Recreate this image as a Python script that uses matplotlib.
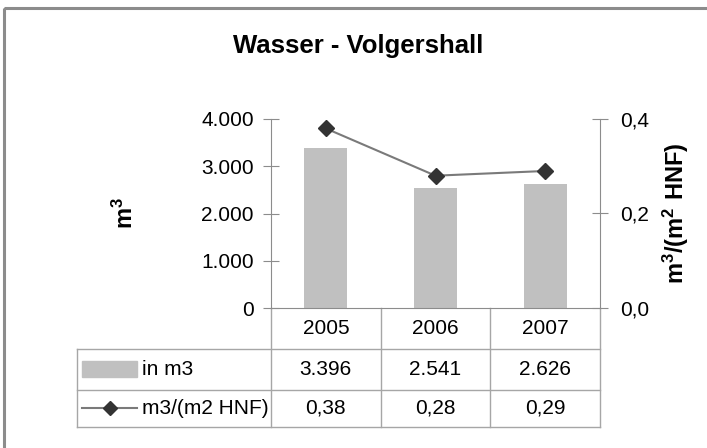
import matplotlib
matplotlib.use("Agg")
import matplotlib.pyplot as plt
import matplotlib.transforms as mtransforms
from matplotlib.patches import Rectangle
from matplotlib.lines import Line2D

plt.rcParams["font.family"] = ["Liberation Sans", "DejaVu Sans"]
plt.rcParams["mathtext.fontset"] = "custom"
plt.rcParams["mathtext.rm"] = "Liberation Sans:bold"
plt.rcParams["mathtext.bf"] = "Liberation Sans:bold"

# data
years = ["2005", "2006", "2007"]
volume_m3 = [3396, 2541, 2626]
per_area = [0.38, 0.28, 0.29]
volume_labels = ["3.396", "2.541", "2.626"]
per_area_labels = ["0,38", "0,28", "0,29"]
left_ticks = [0, 1000, 2000, 3000, 4000]
left_ticklabels = ["0", "1.000", "2.000", "3.000", "4.000"]
right_ticks = [0.0, 0.2, 0.4]
right_ticklabels = ["0,0", "0,2", "0,4"]

W, H = 707, 448
BAR = "#c0c0c0"
AXC = "#8c8c8c"
GRID = "#a6a6a6"
FS = 15

fig = plt.figure(figsize=(W / 100, H / 100), dpi=100)
fig.patch.set_facecolor("white")

# layout layer in pixel coordinates (y downwards)
lay = fig.add_axes([0, 0, 1, 1], zorder=0)
lay.set_xlim(0, W)
lay.set_ylim(H, 0)
lay.axis("off")

# outer chart frame (only top/left edge visible in the crop)
lay.add_patch(Rectangle((4, 8), W + 20, H + 20, fill=False, ec=AXC, lw=2.2))

lay.text(358, 46, "Wasser - Volgershall", ha="center", va="center",
         fontsize=18.5, fontweight="bold")

# plot area: x 271..600, y 119..308 px
x0, x1, ytop, ybot = 271, 600, 119, 308
ax = fig.add_axes([x0 / W, 1 - ybot / H, (x1 - x0) / W, (ybot - ytop) / H], zorder=2)
ax.patch.set_alpha(0)
xs = list(range(len(years)))
ax.bar(xs, volume_m3, width=0.39, color=BAR, zorder=2)
ax.set_xlim(-0.5, len(years) - 0.5)
ax.set_ylim(0, 4000)
ax.set_yticks(left_ticks)
ax.set_yticklabels(left_ticklabels, fontsize=FS)
ax.set_xticks([])
for s in ["top", "right"]:
    ax.spines[s].set_visible(False)
ax.spines["left"].set_color(AXC)
ax.spines["bottom"].set_color(AXC)
ax.tick_params(axis="y", direction="inout", length=11, color=AXC, pad=7)
ax.set_ylabel(r"$\mathrm{m^{3}}$", fontsize=17, labelpad=0)
ax.yaxis.set_label_coords(-0.405, 0.5)

ax2 = ax.twinx()
ax2.plot(xs, per_area, color="#7a7a7a", lw=1.5, marker="D", ms=8,
         mfc="#333333", mec="#333333", zorder=3)
ax2.set_ylim(0, 0.4)
ax2.set_yticks(right_ticks)
ax2.set_yticklabels(right_ticklabels, fontsize=FS)
for s in ["top", "left", "bottom"]:
    ax2.spines[s].set_visible(False)
ax2.spines["right"].set_color(AXC)
ax2.tick_params(axis="y", direction="inout", length=11, color=AXC, pad=9)
ax2.set_ylabel(r"$\mathrm{m^{3}/(m^{2}\ HNF)}$", fontsize=17, labelpad=0)
ax2.yaxis.set_label_coords(1.185, 0.5)

# data table below the plot; columns follow the category scale
colx = mtransforms.blended_transform_factory(ax.transData, lay.transData)
row_y = [308, 349, 390, 427]
tab_left = 77
bounds = [x - 0.5 for x in xs] + [xs[-1] + 0.5]
for b in bounds[1:]:
    lay.add_line(Line2D([b, b], [row_y[0], row_y[-1]], transform=colx, color=GRID, lw=1))
lay.add_line(Line2D([x0, x0], [row_y[0], row_y[-1]], color=GRID, lw=1))
lay.add_line(Line2D([tab_left, tab_left], [row_y[1], row_y[-1]], color=GRID, lw=1))
for yy in row_y[1:]:
    lay.add_line(Line2D([tab_left, x1], [yy, yy], color=GRID, lw=1))

mids = [(row_y[i] + row_y[i + 1]) / 2 for i in range(3)]
for i, x in enumerate(xs):
    lay.text(x, mids[0], years[i], transform=colx, ha="center", va="center", fontsize=FS)
    lay.text(x, mids[1], volume_labels[i], transform=colx, ha="center", va="center", fontsize=FS)
    lay.text(x, mids[2], per_area_labels[i], transform=colx, ha="center", va="center", fontsize=FS)

# legend keys inside the table
lay.add_patch(Rectangle((82, mids[1] - 8), 55, 16, color=BAR))
lay.text(142, mids[1], "in m3", ha="left", va="center", fontsize=FS)
lay.add_line(Line2D([82, 137], [mids[2], mids[2]], color="#7a7a7a", lw=1.5))
lay.plot([109.5], [mids[2]], marker="D", ms=7, color="#333333")
lay.text(142, mids[2], "m3/(m2 HNF)", ha="left", va="center", fontsize=FS)

fig.savefig("out.png", dpi=100)
